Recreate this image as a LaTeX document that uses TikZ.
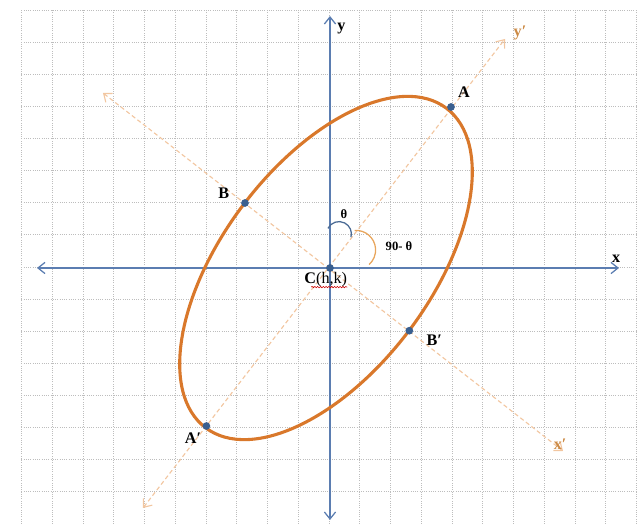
\documentclass[tikz,border=0pt]{standalone}
\usepackage{fontspec}
\setmainfont{Liberation Serif}
\usetikzlibrary{arrows.meta,positioning,decorations.pathmorphing}
\definecolor{gridgrey}{HTML}{BDBDBD}
\definecolor{axblue}{HTML}{5B7DB1}
\definecolor{dotblue}{HTML}{3A5F8F}
\definecolor{ellorange}{HTML}{D9782B}
\definecolor{primeorange}{HTML}{F2C6A0}
\definecolor{primetext}{HTML}{CC8A45}
\definecolor{arcblue}{HTML}{4A6A94}
\definecolor{arcorange}{HTML}{E8A55C}

\begin{document}
\begin{tikzpicture}[
  x=0.025cm, y=0.025cm,
  font=\fontsize{11.5}{13}\selectfont\bfseries,
  gridln/.style={gridgrey, densely dotted, line width=0.6pt},
  axisln/.style={{Straight Barb[length=5pt,width=8pt]}-{Straight Barb[length=5pt,width=8pt]},
                 axblue, line width=0.9pt},
  primeax/.style={{Straight Barb[length=5pt,width=8pt]}-{Straight Barb[length=5pt,width=8pt]},
                  primeorange, line width=0.8pt, dash pattern=on 3pt off 2pt},
  conic/.style={ellorange, line width=2.2pt},
  dotpt/.style={circle, fill=dotblue, inner sep=0pt, minimum size=5.5pt},
  lbl/.style={inner sep=1pt},
  plbl/.style={text=primetext, inner sep=1pt},
  albl/.style={font=\fontsize{9}{10}\selectfont\bfseries, inner sep=1pt},
  squiggle/.style={red!80!black, line width=0.4pt, decorate,
                   decoration={snake, amplitude=0.5pt, segment length=2pt}},
]
\useasboundingbox (-330,-256) rectangle (309,268);

% ---------------- grid paper ----------------------------------------
\foreach \i in {0,...,20}
  \draw[gridln] ({-308.5+30.75*\i},-256) -- ({-308.5+30.75*\i},258);
\foreach \j in {0,...,16}
  \draw[gridln] (-308.5,{258-32.125*\j}) -- (306.5,{258-32.125*\j});

% ---------------- rotated axes x', y' -------------------------------
\coordinate (Yp1) at (-187,-240);
\coordinate (Yp2) at (175,229);
\coordinate (Xp1) at (-227,175);
\coordinate (Xp2) at (233,-183);
\draw[primeax] (Yp1) -- (Yp2);
\draw[primeax] (Xp1) -- (Xp2);
\node[plbl, right=5pt of Yp2, yshift=4pt] (yplbl) {y′};
\node[plbl, above=0pt of Xp2, xshift=-2pt] (xplbl) {x′};

% ---------------- x and y axes --------------------------------------
\coordinate (xl) at (-293,0);
\coordinate (xr) at (289,0);
\coordinate (yb) at (0,-252);
\coordinate (yt) at (0,252);
\draw[axisln] (xl) -- (xr);
\draw[axisln] (yb) -- (yt);
\node[lbl, below right=3.5pt and 4pt of yt] (ylbl) {y};
\node[lbl, above=3pt of xr, xshift=-2pt] (xlbl) {x};

% ---------------- the ellipse ---------------------------------------
\coordinate (E) at (-4,0);
\draw[conic, rotate around={53:(E)}] (E) ellipse [x radius=5cm, y radius=2.6cm];

% angle marks
\coordinate (thc) at (9,34);
\coordinate (phc) at (26,18);
\draw[arcblue, line width=0.9pt] ([shift={(153:0.31cm)}]thc)
  arc[start angle=153, end angle=-15, radius=0.31cm];
\draw[arcorange, line width=0.9pt] ([shift={(94:0.49cm)}]phc)
  arc[start angle=94, end angle=-48, radius=0.49cm];
\node[albl] (thlbl) at ([shift={(5,20)}]thc) {θ};
\node[albl, anchor=west] (phlbl) at ([shift={(28,4)}]phc) {90- θ};

% ---------------- centre and vertices -------------------------------
\node[dotpt] (C)  at (0,0) {};
\node[dotpt] (A)  at (121,161) {};
\node[dotpt] (Ap) at (-123.6,-158) {};
\node[dotpt] (B)  at (-85,65) {};
\node[dotpt] (Bp) at (79.3,-62.7) {};

\node[lbl, above right=3.3pt and 1.8pt of A] (Albl) {A};
\node[lbl, below left=1.5pt and 0.5pt of Ap] (Aplbl) {A′};
\node[lbl, above left=0pt and 8pt of B] (Blbl) {B};
\node[lbl, below right=0pt and 9pt of Bp] (Bplbl) {B′};
\node[lbl, below=-1pt of C, xshift=-3pt] (Clbl) {C\textmd{(h,k)}};
\draw[squiggle] ([xshift=6pt,yshift=1.2pt]Clbl.south west) -- ([xshift=-1pt,yshift=1.2pt]Clbl.south east);

\end{tikzpicture}
\end{document}
